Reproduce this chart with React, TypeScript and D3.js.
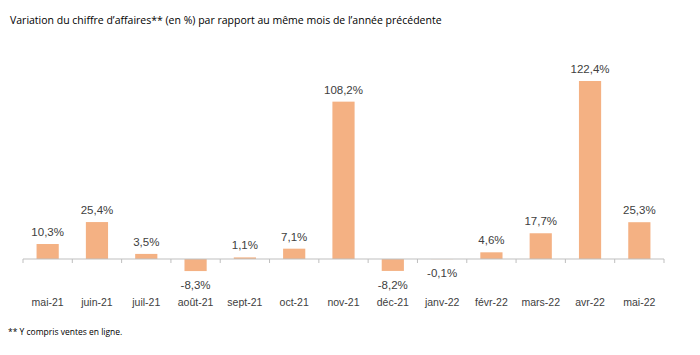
import React from "react";
import * as d3 from "d3";

const categories = ["mai-21","juin-21","juil-21","août-21","sept-21","oct-21","nov-21","déc-21","janv-22","févr-22","mars-22","avr-22","mai-22"];
const values = [10.3, 25.4, 3.5, -8.3, 1.1, 7.1, 108.2, -8.2, -0.1, 4.6, 17.7, 122.4, 25.3];
const title = "Variation du chiffre d’affaires** (en %) par rapport au même mois de l’année précédente";
const footnote = "** Y compris ventes en ligne.";

const W = 700, H = 355;

export default function App() {
  const x = d3.scaleBand<string>().domain(categories).range([23, 664]).paddingInner(0.55).paddingOuter(0.275);
  const y = d3.scaleLinear().domain([0, 122.4]).range([259, 81]);
  const fmt = (v: number) => v.toFixed(1).replace(".", ",") + "%";
  const tickXs = d3.range(categories.length + 1).map(i => 23 + i * (641 / categories.length));
  return (
    <svg width={W} height={H} style={{ position: "absolute", left: 0, top: 0, background: "#fff" }}>
      <text x={10} y={24} fontFamily="Open Sans" fontSize={10.5} fill="#000">{title}</text>
      {categories.map((c, i) => {
        const v = values[i];
        const bx = x(c)!;
        const top = Math.min(y(v), y(0));
        const h = Math.abs(y(v) - y(0));
        const cx = bx + x.bandwidth() / 2;
        return (
          <g key={c}>
            <rect x={bx} y={top} width={x.bandwidth()} height={h} fill="#F4B183" />
            <text x={cx} y={v >= 0 ? y(v) - 8 : y(v) + 18} textAnchor="middle" fontFamily="Liberation Sans" fontSize={11.5} fill="#404040">{fmt(v)}</text>
            <text x={cx} y={306} textAnchor="middle" fontFamily="Liberation Sans" fontSize={10.5} fill="#404040">{c}</text>
          </g>
        );
      })}
      <line x1={23} x2={664} y1={y(0)} y2={y(0)} stroke="#bfbfbf" strokeWidth={1} />
      {tickXs.map((t, i) => (
        <line key={i} x1={t} x2={t} y1={y(0)} y2={y(0) + 4} stroke="#bfbfbf" strokeWidth={1} />
      ))}
      <text x={8} y={335} fontFamily="Open Sans" fontSize={8.5} fill="#000">{footnote}</text>
    </svg>
  );
}
